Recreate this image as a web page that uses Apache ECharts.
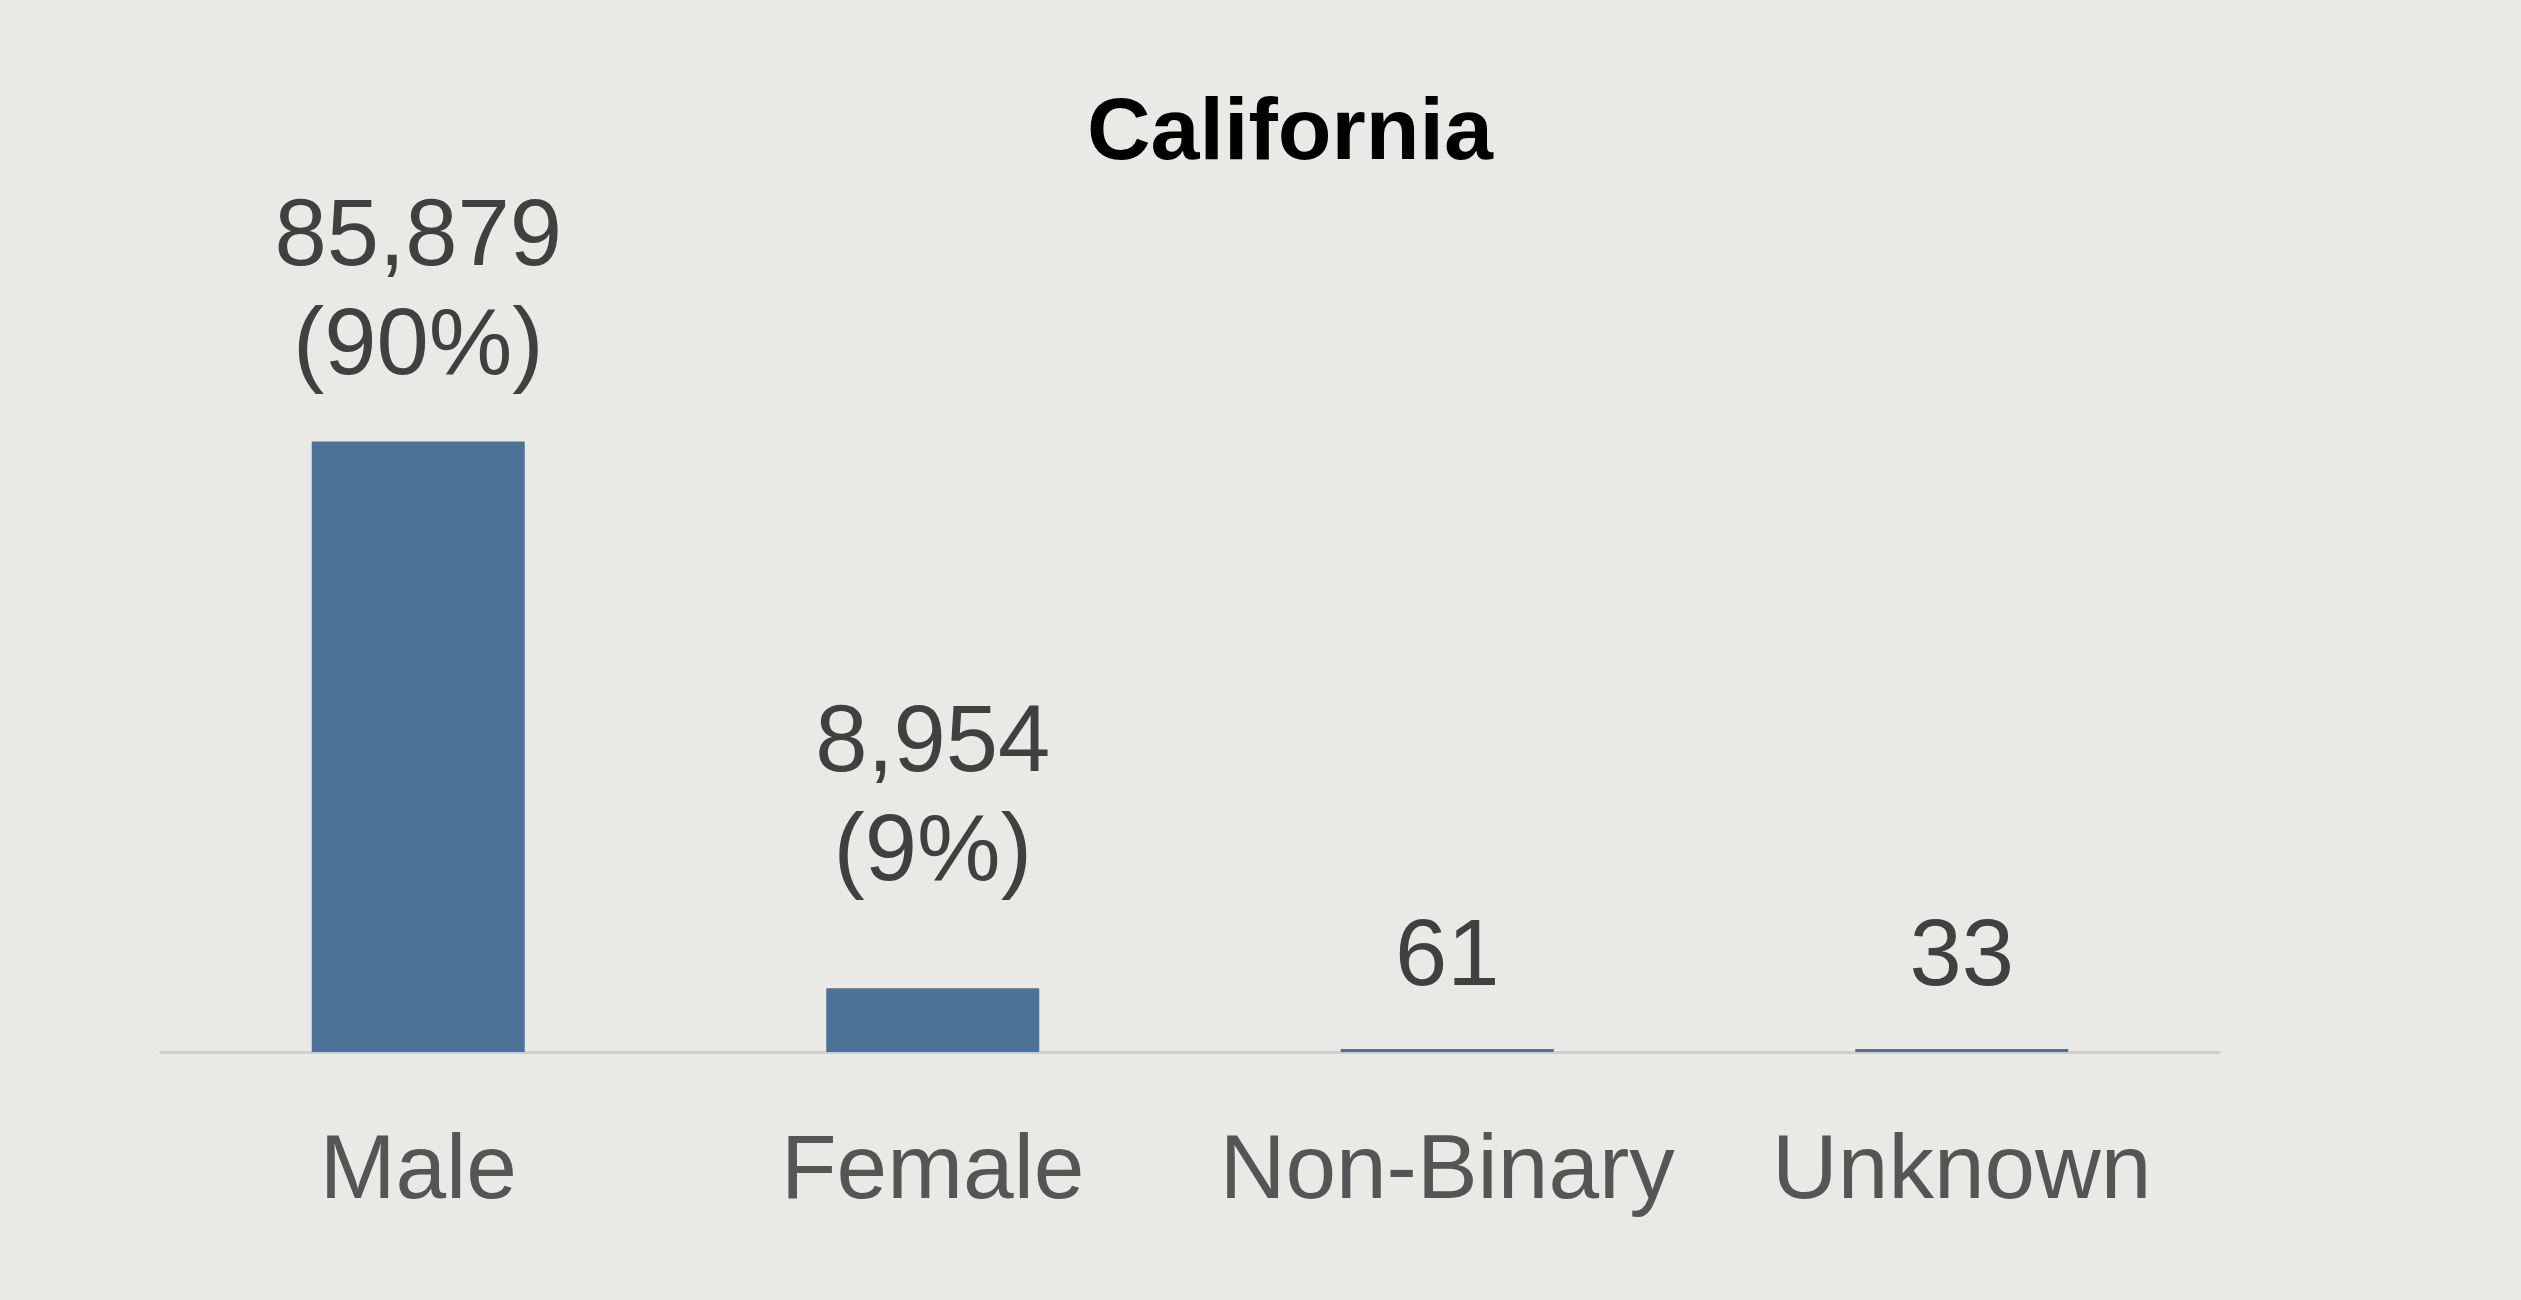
<!DOCTYPE html>
<html>
<head>
<meta charset="utf-8">
<script src="https://cdn.jsdelivr.net/npm/echarts@6/dist/echarts.min.js"></script>
<style>
html,body{margin:0;padding:0;background:#e9eae6;}
#chart{width:2521px;height:1300px;}
</style>
</head>
<body>
<div id="chart"></div>
<script>
const titleText = "California";
const categories = ["Male", "Female", "Non-Binary", "Unknown"];
const counts = [85879, 8954, 61, 33];
const percents = ["90%", "9%", null, null];

const labelGaps = [39, 80, 35, 35];

const chart = echarts.init(document.getElementById('chart'));
const fmt = v => v.toLocaleString('en-US');

const option = {
  backgroundColor: '#e9eae6',
  animation: false,
  title: {
    text: titleText,
    left: 1087,
    top: 91,
    padding: 0,
    textStyle: {
      fontFamily: 'Liberation Sans',
      fontWeight: 'bold',
      fontSize: 88,
      lineHeight: 88,
      color: '#000000'
    }
  },
  grid: { left: 161, right: 302, top: 341, bottom: 248, containLabel: false },
  xAxis: {
    type: 'category',
    data: categories,
    axisLine: { show: true, lineStyle: { color: '#cfd0cc', width: 3 } },
    axisTick: { show: false },
    axisLabel: {
      fontFamily: 'Liberation Sans',
      fontSize: 91,
      lineHeight: 94,
      color: '#555555',
      margin: 74,
      interval: 0
    }
  },
  yAxis: {
    type: 'value',
    min: 0,
    max: 100000,
    show: false,
    splitLine: { show: false }
  },
  series: [{
    type: 'bar',
    barWidth: 213,
    barMinHeight: 3,
    itemStyle: { color: '#4c7298' },
    data: counts.map((v, i) => ({
      value: v,
      label: {
        show: true,
        position: 'top',
        distance: labelGaps[i],
        formatter: percents[i] ? fmt(v) + '\n(' + percents[i] + ')' : fmt(v),
        fontFamily: 'Liberation Sans',
        fontSize: 94,
        lineHeight: 109,
        color: '#404040'
      }
    }))
  }]
};
chart.setOption(option);
</script>
</body>
</html>
